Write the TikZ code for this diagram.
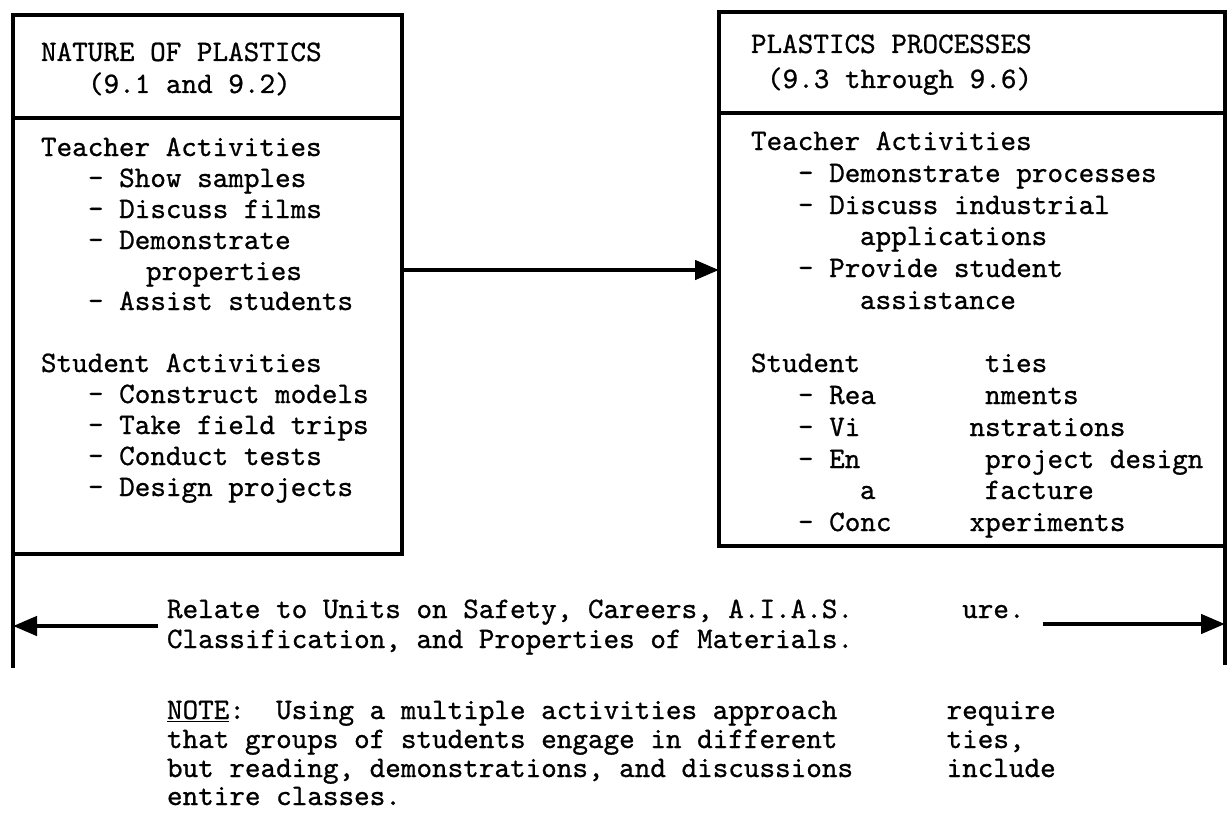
\documentclass[tikz,border=0pt]{standalone}
\usepackage{fontspec}
\usetikzlibrary{arrows.meta}
\newfontfamily\tw{lmmono10-regular.otf}[FakeBold=0.8]
\newlength\cw
\setlength\cw{15.59pt}
\newcommand\tgap[1]{\hspace*{#1\cw}}
\tikzset{
  boxnode/.style={draw=black, line width=4.5pt, inner sep=0pt, outer sep=0pt, anchor=north west},
  boxline/.style={draw=black, line width=4.5pt},
  arrowline/.style={draw=black, line width=4.5pt, -{Triangle[length=24pt,width=19pt]}},
  txt/.style={anchor=base west, inner sep=0pt, outer sep=0pt, text=black,
    font=\tw\fontsize{29.7pt}{31pt}\selectfont}
}
\begin{document}
\begin{tikzpicture}[x=1pt,y=-1pt]
\fill[white] (0,0) rectangle (1230,824);
\useasboundingbox (0,0) rectangle (1230,824);

% boxes
\node[boxnode, minimum width=389pt, minimum height=539pt] (Lbox) at (13,15) {};
\node[boxnode, minimum width=506pt, minimum height=534pt] (Rbox) at (719,12) {};
\draw[boxline] (Lbox.west |- 0,118) -- (Lbox.east |- 0,118);
\draw[boxline] (Rbox.west |- 0,113) -- (Rbox.east |- 0,113);

% side bars
\coordinate (Lbot) at (13,668);
\coordinate (Rbot) at (1225,665);
\draw[boxline] (Lbox.south west) -- (Lbot);
\draw[boxline] (Rbox.south east) -- (Rbot);

% arrows
\draw[arrowline] (Lbox.east |- 0,270) -- (Rbox.west |- 0,270);
\coordinate (Lfrom) at (158,626);
\draw[arrowline] (Lfrom) -- (Lbot |- Lfrom);
\coordinate (Rfrom) at (1043,624);
\draw[arrowline] (Rfrom) -- (Rbot |- Rfrom);

% left box text
\node[txt] (l1) at (41,61) {NATURE OF PLASTICS};
\node[txt] (l2) at (88,93) {(9.1 and 9.2)};
\node[txt] (l3) at (41,156) {Teacher Activities};
\node[txt] (l4) at (88,187) {- Show samples};
\node[txt] (l5) at (88,218) {- Discuss films};
\node[txt] (l6) at (88,249) {- Demonstrate};
\node[txt] (l7) at (146,280) {properties};
\node[txt] (l8) at (88,310) {- Assist students};
\node[txt] (l9) at (41,372) {Student Activities};
\node[txt] (l10) at (88,403) {- Construct models};
\node[txt] (l11) at (88,434) {- Take field trips};
\node[txt] (l12) at (88,465) {- Conduct tests};
\node[txt] (l13) at (88,496) {- Design projects};

% right box text
\node[txt] (r1) at (751,53) {PLASTICS PROCESSES};
\node[txt] (r2) at (767,88) {(9.3 through 9.6)};
\node[txt] (r3) at (751,150) {Teacher Activities};
\node[txt] (r4) at (798,182) {- Demonstrate processes};
\node[txt] (r5) at (798,214) {- Discuss industrial};
\node[txt] (r6) at (860,245) {applications};
\node[txt] (r7) at (798,277) {- Provide student};
\node[txt] (r8) at (860,309) {assistance};
\node[txt] (r9) at (751,372) {Student\tgap{8}ties};
\node[txt] (r10) at (798,404) {- Rea\tgap{7}nments};
\node[txt] (r11) at (798,436) {- Vi\tgap{7}nstrations};
\node[txt] (r12) at (798,468) {- En\tgap{8}project design};
\node[txt] (r13) at (860,499) {a\tgap{7}facture};
\node[txt] (r14) at (798,531) {- Conc\tgap{5}xperiments};

% bottom text
\node[txt] (b1) at (167,618) {Relate to Units on Safety, Careers, A.I.A.S.\tgap{7}ure.};
\node[txt] (b2) at (167,648) {Classification, and Properties of Materials.};
\node[txt] (n1) at (167,719) {\underline{NOTE}:\tgap{2}Using a multiple activities approach\tgap{7}require};
\node[txt] (n2) at (167,748) {that groups of students engage in different\tgap{7}ties,};
\node[txt] (n3) at (167,777) {but reading, demonstrations, and discussions\tgap{6}include};
\node[txt] (n4) at (167,805) {entire classes.};
\end{tikzpicture}
\end{document}
